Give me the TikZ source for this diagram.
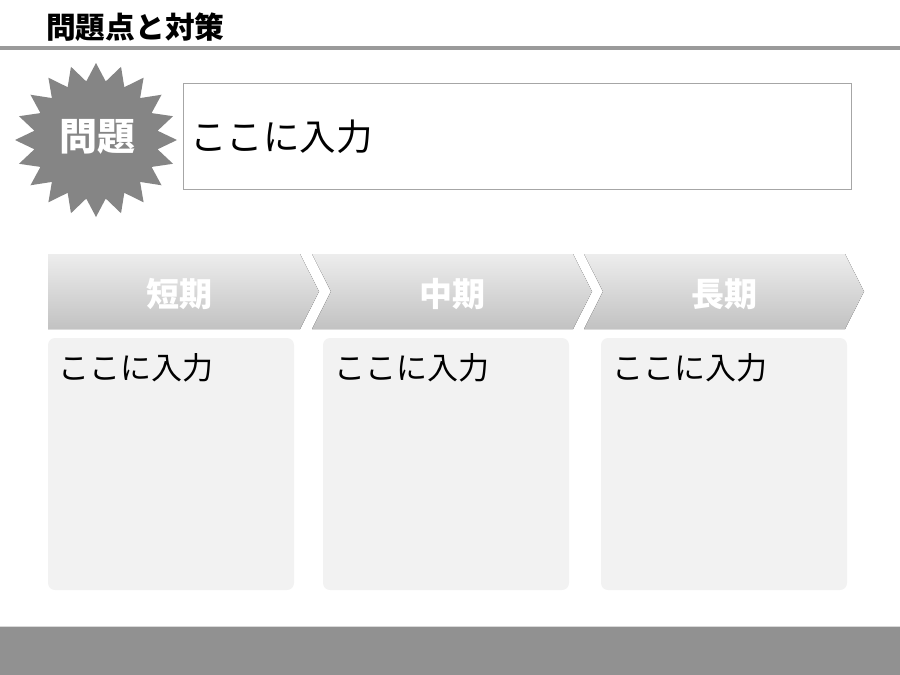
\documentclass[tikz,border=0pt]{standalone}
\usepackage{fontspec}
\setmainfont{Noto Sans CJK JP}
\usetikzlibrary{calc}
\definecolor{linegray}{HTML}{9A9A9A}
\definecolor{burstgray}{HTML}{858585}
\definecolor{boxline}{HTML}{A6A6A6}
\definecolor{chevtop}{HTML}{EDEDED}
\definecolor{chevbot}{HTML}{C2C2C2}
\definecolor{panel}{HTML}{F2F2F2}
\definecolor{band}{HTML}{919191}
\tikzset{
  chev/.style={top color=chevtop, bottom color=chevbot, draw=none},
  chevlabel/.style={text=white, font=\fontsize{33}{36}\selectfont\bfseries, inner sep=0pt},
  panelbox/.style={fill=panel, draw=none, rounded corners=7pt},
  inputtext/.style={font=\fontsize{31}{36}\selectfont, inner sep=0pt, anchor=west},
}
\begin{document}
\begin{tikzpicture}[x=1pt,y=-1pt]
\useasboundingbox (0,0) rectangle (900,675);
% title
\node[anchor=west, inner sep=0pt, font=\fontsize{29.7}{32}\selectfont\bfseries] (title) at (46,27) {問題点と対策};
\fill[linegray] (0,45.5) rectangle (900,49.5);
% starburst
\coordinate (bc) at (96,140);
\fill[burstgray] ($(bc)+(81,0)$)
  \foreach \i [evaluate=\i as \r using {mod(\i,2)==0 ? 1 : 0.77}] in {1,...,39}
  { -- ($(bc)+({81*\r*cos(\i*9)},{77*\r*sin(\i*9)})$) } -- cycle;
\node[text=white, inner sep=0pt, font=\fontsize{38}{40}\selectfont\bfseries] (burst) at (97,137) {問題};
% problem box
\draw[boxline, fill=white, line width=0.8pt] (183,83) rectangle (851,189);
\node[font=\fontsize{36.5}{38}\selectfont, inner sep=0pt, anchor=west] (prob) at (190,137) {ここに入力};
% chevrons
\fill[chev] (48,254) -- (300,254) -- (319,291.5) -- (300,329) -- (48,329) -- cycle;
\fill[chev] (312,254) -- (573,254) -- (592,291.5) -- (573,329) -- (312,329) -- (331,291.5) -- cycle;
\fill[chev] (584,254) -- (845,254) -- (864,291.5) -- (845,329) -- (584,329) -- (603,291.5) -- cycle;
\node[chevlabel] (short) at (179,294) {短期};
\node[chevlabel] (mid) at (452,294) {中期};
\node[chevlabel] (long) at (724,294) {長期};
% panels
\fill[panelbox] (48,338) rectangle (294,590);
\fill[panelbox] (323,338) rectangle (569,590);
\fill[panelbox] (601,338) rectangle (847,590);
\node[inputtext] (t1) at (58,368) {ここに入力};
\node[inputtext] (t2) at (334,368) {ここに入力};
\node[inputtext] (t3) at (612,368) {ここに入力};
% bottom band
\fill[black!15] (0,625.5) rectangle (900,627);
\fill[band] (0,627) rectangle (900,675);
\end{tikzpicture}
\end{document}
